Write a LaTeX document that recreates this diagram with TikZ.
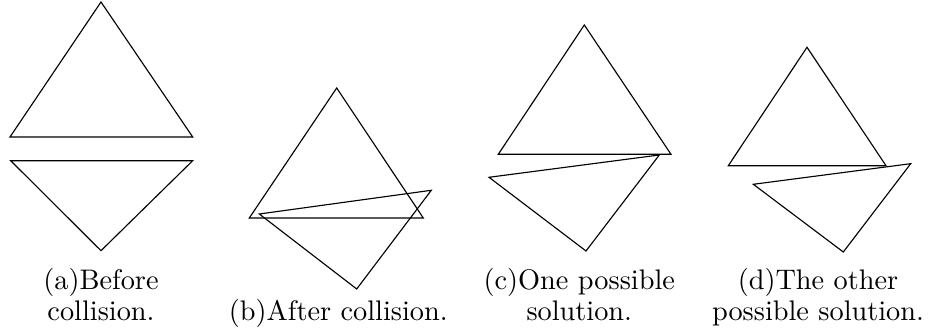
\documentclass[tikz,border=0pt]{standalone}
\usepackage{tikz}

\begin{document}
\begin{tikzpicture}[x=0.3534pt, y=-0.3534pt,
    tri/.style={draw, black, thin, line join=miter},
    subcap/.style={align=center, anchor=base, inner sep=0pt,
      font=\fontsize{10}{11.2}\selectfont}]
  \useasboundingbox (0,0) rectangle (932,335);
  % (a) before the collision: two triangles apart
  \draw[tri] (101,2) -- (10,137) -- (192.7,137) -- cycle;
  \draw[tri] (10.7,160.7) -- (192.7,160.7) -- (101,250.7) -- cycle;
  \node[subcap] (capA) at (101,321) {(a)Before\\collision.};
  % (b) after the collision: lower one rotated into the upper one
  \draw[tri] (336.7,88) -- (249.3,218) -- (423.3,218) -- cycle;
  \draw[tri] (259.3,214) -- (431.3,190.3) -- (356.7,289) -- cycle;
  \node[subcap] (capB) at (338.3,321) {(b)After collision.};
  % (c) first way out: touching at the right corner
  \draw[tri] (584.3,25) -- (498.3,154.3) -- (671,154.3) -- cycle;
  \draw[tri] (659.3,155) -- (489,177.3) -- (586,251) -- cycle;
  \node[subcap] (capC) at (579.3,321) {(c)One possible\\solution.};
  % (d) second way out: touching at the upper base corner
  \draw[tri] (807,47.3) -- (728.3,165.7) -- (886,165.7) -- cycle;
  \draw[tri] (910.7,163.7) -- (753.3,184.3) -- (843.3,252) -- cycle;
  \node[subcap] (capD) at (818,321) {(d)The other\\possible solution.};
\end{tikzpicture}
\end{document}
